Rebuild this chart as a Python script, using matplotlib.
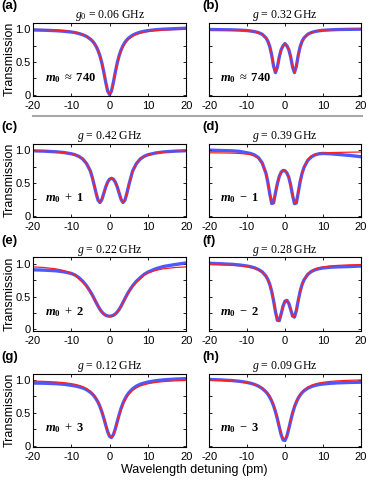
import matplotlib
matplotlib.use("Agg")
import matplotlib.pyplot as plt
from matplotlib.lines import Line2D

plt.rcParams['font.family'] = ['Liberation Sans', 'DejaVu Sans']
plt.rcParams['mathtext.fontset'] = 'custom'
plt.rcParams['mathtext.rm'] = 'Liberation Serif'
plt.rcParams['mathtext.it'] = 'Liberation Serif:italic'
plt.rcParams['mathtext.bf'] = 'Liberation Serif:bold'
plt.rcParams['mathtext.bfit'] = 'Liberation Serif:bold:italic'

# detuning grid (pm), shared by all panels
detuning = [-20, -17, -14, -12, -10, -9, -8, -7, -6, -5, -4.5, -4, -3.5, -3, -2.5, -2,
            -1.5, -1, -0.5, 0, 0.5, 1, 1.5, 2, 2.5, 3, 3.5, 4, 4.5, 5, 6, 7, 8, 9, 10,
            12, 14, 17, 20]

panel_tags = ["(a)", "(b)", "(c)", "(d)", "(e)", "(f)", "(g)", "(h)"]
titles = [r"$g_0$ = 0.06 GHz", r"$g$ = 0.32 GHz", r"$g$ = 0.42 GHz", r"$g$ = 0.39 GHz",
          r"$g$ = 0.22 GHz", r"$g$ = 0.28 GHz", r"$g$ = 0.12 GHz", r"$g$ = 0.09 GHz"]
modes = [r"$\mathbfit{m}_\mathbf{0}\ \approx\ \mathbf{740}$",
         r"$\mathbfit{m}_\mathbf{0}\ \approx\ \mathbf{740}$",
         r"$\mathbfit{m}_\mathbf{0}\ +\ \mathbf{1}$", r"$\mathbfit{m}_\mathbf{0}\ -\ \mathbf{1}$",
         r"$\mathbfit{m}_\mathbf{0}\ +\ \mathbf{2}$", r"$\mathbfit{m}_\mathbf{0}\ -\ \mathbf{2}$",
         r"$\mathbfit{m}_\mathbf{0}\ +\ \mathbf{3}$", r"$\mathbfit{m}_\mathbf{0}\ -\ \mathbf{3}$"]

# measured transmission (blue dots)
meas_a = [0.988, 0.984, 0.977, 0.969, 0.957, 0.947, 0.934, 0.915, 0.889, 0.848, 0.82, 0.784,
          0.736, 0.673, 0.59, 0.48, 0.342, 0.188, 0.055, 0.0, 0.056, 0.19, 0.345, 0.485,
          0.597, 0.683, 0.748, 0.798, 0.836, 0.866, 0.908, 0.935, 0.955, 0.968, 0.978,
          0.992, 1.0, 1.008, 1.015]
meas_b = [0.995, 0.993, 0.99, 0.986, 0.979, 0.972, 0.963, 0.948, 0.922, 0.866, 0.815, 0.733,
          0.604, 0.435, 0.336, 0.422, 0.576, 0.688, 0.746, 0.78, 0.746, 0.688, 0.576, 0.422,
          0.336, 0.435, 0.604, 0.733, 0.815, 0.866, 0.923, 0.95, 0.966, 0.976, 0.983,
          0.99, 0.995, 0.998, 1.0]
meas_c = [0.99, 0.985, 0.975, 0.965, 0.945, 0.93, 0.905, 0.865, 0.795, 0.68, 0.58, 0.462,
          0.338, 0.235, 0.2, 0.247, 0.341, 0.438, 0.512, 0.556, 0.57, 0.556, 0.512, 0.438,
          0.341, 0.247, 0.2, 0.235, 0.338, 0.462, 0.68, 0.795, 0.865, 0.905, 0.93,
          0.957, 0.973, 0.985, 0.992]
meas_d = [1.0, 0.995, 0.99, 0.982, 0.96, 0.948, 0.926, 0.886, 0.805, 0.645, 0.505, 0.33,
          0.185, 0.195, 0.35, 0.49, 0.6, 0.665, 0.69, 0.686, 0.652, 0.585, 0.465, 0.31,
          0.183, 0.193, 0.355, 0.52, 0.645, 0.735, 0.845, 0.9, 0.93, 0.945, 0.95,
          0.945, 0.935, 0.92, 0.9]
meas_e = [0.91, 0.905, 0.895, 0.88, 0.855, 0.83, 0.79, 0.735, 0.665, 0.575, 0.525, 0.468,
          0.41, 0.355, 0.305, 0.265, 0.235, 0.215, 0.205, 0.2, 0.205, 0.215, 0.235, 0.265,
          0.305, 0.355, 0.412, 0.47, 0.525, 0.577, 0.665, 0.735, 0.79, 0.84, 0.875,
          0.925, 0.96, 0.99, 1.015]
meas_f = [1.01, 1.003, 0.994, 0.984, 0.968, 0.956, 0.94, 0.915, 0.879, 0.813, 0.76, 0.686,
          0.58, 0.436, 0.268, 0.138, 0.133, 0.238, 0.356, 0.43, 0.443, 0.398, 0.303, 0.203,
          0.187, 0.29, 0.444, 0.582, 0.684, 0.755, 0.84, 0.886, 0.912, 0.928, 0.938,
          0.95, 0.955, 0.96, 0.968]
meas_g = [0.955, 0.952, 0.945, 0.937, 0.92, 0.91, 0.897, 0.88, 0.853, 0.813, 0.787, 0.754,
          0.71, 0.66, 0.594, 0.512, 0.417, 0.311, 0.211, 0.14, 0.122, 0.166, 0.255, 0.365,
          0.472, 0.568, 0.647, 0.711, 0.762, 0.805, 0.867, 0.908, 0.937, 0.955, 0.97,
          0.99, 1.003, 1.015, 1.022]
meas_h = [1.01, 1.003, 0.993, 0.982, 0.964, 0.951, 0.933, 0.908, 0.872, 0.82, 0.783, 0.737,
          0.679, 0.606, 0.515, 0.405, 0.281, 0.163, 0.085, 0.077, 0.143, 0.256, 0.381, 0.495,
          0.59, 0.665, 0.725, 0.77, 0.808, 0.836, 0.876, 0.902, 0.92, 0.932, 0.94,
          0.951, 0.958, 0.964, 0.968]

# fitted transmission (red line)
fit_a = [0.998, 0.994, 0.986, 0.978, 0.965, 0.954, 0.94, 0.92, 0.893, 0.851, 0.821, 0.784,
         0.735, 0.671, 0.586, 0.476, 0.338, 0.185, 0.054, 0.0, 0.054, 0.185, 0.338, 0.476,
         0.586, 0.671, 0.735, 0.784, 0.821, 0.851, 0.893, 0.92, 0.94, 0.954, 0.965,
         0.978, 0.986, 0.994, 0.998]
fit_b = meas_b[:]
fit_c = [0.99, 0.985, 0.975, 0.965, 0.945, 0.93, 0.905, 0.865, 0.795, 0.68, 0.58, 0.462,
         0.338, 0.235, 0.2, 0.247, 0.341, 0.438, 0.512, 0.556, 0.57, 0.556, 0.512, 0.438,
         0.341, 0.247, 0.2, 0.235, 0.338, 0.462, 0.68, 0.795, 0.865, 0.905, 0.93,
         0.955, 0.97, 0.982, 0.988]
fit_d = [0.96, 0.958, 0.955, 0.95, 0.94, 0.93, 0.91, 0.875, 0.8, 0.64, 0.5, 0.33,
         0.185, 0.195, 0.35, 0.49, 0.6, 0.665, 0.69, 0.686, 0.652, 0.585, 0.465, 0.31,
         0.185, 0.195, 0.36, 0.523, 0.65, 0.74, 0.86, 0.915, 0.94, 0.952, 0.958,
         0.963, 0.966, 0.969, 0.972]
fit_e = [0.955, 0.945, 0.925, 0.9, 0.86, 0.83, 0.77, 0.72, 0.655, 0.57, 0.52, 0.465,
         0.41, 0.355, 0.305, 0.265, 0.235, 0.215, 0.205, 0.2, 0.205, 0.215, 0.235, 0.265,
         0.305, 0.355, 0.41, 0.465, 0.52, 0.57, 0.655, 0.72, 0.77, 0.83, 0.86,
         0.9, 0.925, 0.945, 0.955]
fit_f = [0.99, 0.986, 0.98, 0.972, 0.959, 0.949, 0.934, 0.91, 0.875, 0.81, 0.758, 0.685,
         0.58, 0.436, 0.268, 0.138, 0.133, 0.238, 0.356, 0.43, 0.443, 0.398, 0.303, 0.203,
         0.187, 0.29, 0.445, 0.584, 0.688, 0.761, 0.849, 0.897, 0.925, 0.943, 0.955,
         0.97, 0.978, 0.986, 0.99]
fit_g = [0.985, 0.98, 0.971, 0.962, 0.946, 0.935, 0.92, 0.9, 0.871, 0.829, 0.8, 0.766,
         0.72, 0.668, 0.6, 0.516, 0.419, 0.312, 0.211, 0.14, 0.121, 0.163, 0.249, 0.355,
         0.459, 0.552, 0.629, 0.691, 0.74, 0.781, 0.842, 0.882, 0.91, 0.928, 0.944,
         0.964, 0.977, 0.988, 0.995]
fit_h = [1.0, 0.995, 0.988, 0.978, 0.962, 0.951, 0.935, 0.912, 0.879, 0.829, 0.794, 0.75,
         0.693, 0.621, 0.53, 0.42, 0.296, 0.178, 0.1, 0.092, 0.158, 0.271, 0.396, 0.51,
         0.605, 0.68, 0.74, 0.785, 0.823, 0.851, 0.894, 0.922, 0.942, 0.956, 0.966,
         0.98, 0.989, 0.997, 1.002]

meas = [meas_a, meas_b, meas_c, meas_d, meas_e, meas_f, meas_g, meas_h]
fits = [fit_a, fit_b, fit_c, fit_d, fit_e, fit_f, fit_g, fit_h]

fig = plt.figure(figsize=(3.74, 4.82), dpi=100)

lefts = [0.088, 0.559]
widths = [0.41, 0.406]
bottoms = [0.801, 0.55, 0.314, 0.073]
height = 0.152

for i in range(8):
    row, col = divmod(i, 2)
    ax = fig.add_axes([lefts[col], bottoms[row], widths[col], height])
    ax.plot(detuning, meas[i], color='#2b3cff', lw=2.4, alpha=0.85, solid_capstyle='round')
    ax.plot(detuning, fits[i], color='#ff1f1f', lw=0.9)
    ax.set_xlim(-20, 20)
    ax.set_ylim(-0.02, 1.1)
    ax.set_xticks([-20, -10, 0, 10, 20])
    ax.set_xticklabels(['-20', '-10', '0', '10', '20'])
    ax.set_yticks([0, 0.25, 0.5, 0.75, 1.0])
    if col == 0:
        ax.set_yticklabels(['0', '', '0.5', '', '1.0'])
        ax.set_ylabel('Transmission', fontsize=9, labelpad=0)
    else:
        ax.set_yticklabels([])
    ax.tick_params(direction='in', top=True, right=True, labelsize=8, length=2.5,
                   width=0.6)
    ax.tick_params(axis='x', pad=3.5)
    ax.tick_params(axis='y', pad=1.5)
    for s in ax.spines.values():
        s.set_linewidth(0.8)
    ax.set_title(titles[i], fontsize=8.5, pad=3, fontfamily='Liberation Serif')
    ax.text(0.08 if col == 0 else 0.07, 0.25, modes[i], transform=ax.transAxes,
            fontsize=9, va='center', ha='left')
    fig.text(0.005 if col == 0 else 0.54, bottoms[row] + height + 0.022, panel_tags[i],
             fontsize=9.5, fontweight='bold', ha='left', va='bottom')

fig.add_artist(Line2D([0.088, 0.968], [1 - 116 / 482, 1 - 116 / 482],
                      color='#a8a8a8', lw=1.5, transform=fig.transFigure))
fig.text(0.52, 1 - 470 / 482, 'Wavelength detuning (pm)', fontsize=9, ha='center',
         va='center')

fig.savefig('out.png', dpi=100)
